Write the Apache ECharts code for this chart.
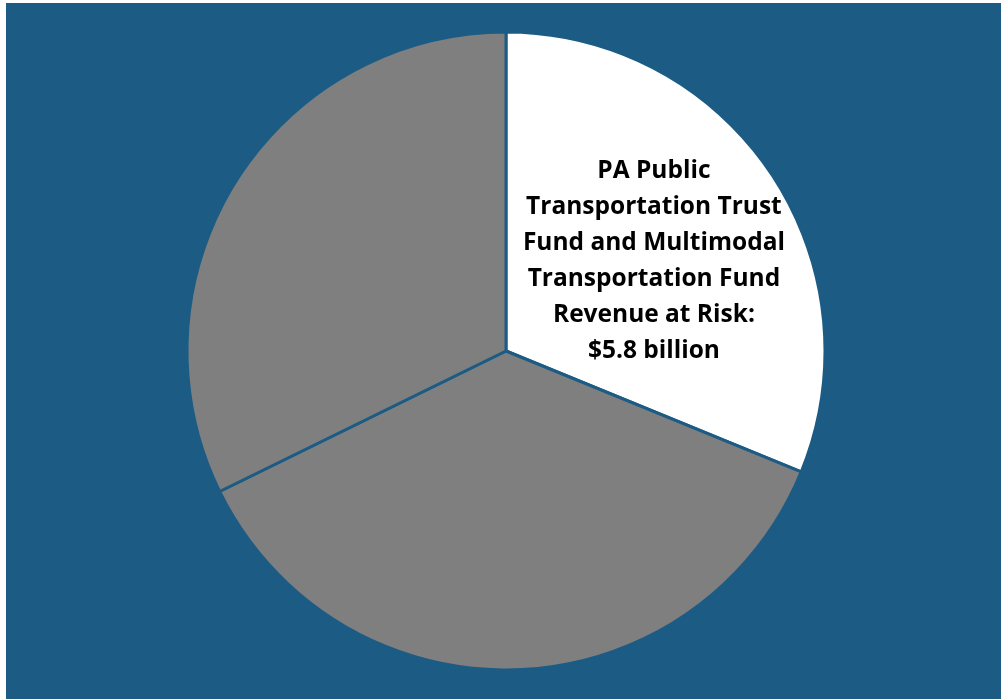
<!DOCTYPE html>
<html><head><meta charset="utf-8">
<script src="https://cdn.jsdelivr.net/npm/echarts@6/dist/echarts.min.js"></script>
<style>
html,body{margin:0;padding:0;background:#ffffff;width:1001px;height:699px;overflow:hidden;}
#c{position:absolute;left:6px;top:3px;width:995px;height:696px;}
</style></head>
<body><div id="c"></div>
<script>
const categories = ['PA Public Transportation Trust Fund and Multimodal Transportation Fund Revenue at Risk', 'Other 1', 'Other 2'];
const values = [5.8, 6.8, 6.0];
const labelText = ['PA Public', 'Transportation Trust', 'Fund and Multimodal', 'Transportation Fund', 'Revenue at Risk:', '$5.8 billion'];
const colors = ['#ffffff', '#7f7f7f', '#7f7f7f'];

const chart = echarts.init(document.getElementById('c'), null, {renderer: 'canvas'});
chart.setOption({
  backgroundColor: '#1c5c84',
  animation: false,
  series: [{
    type: 'pie',
    center: [500, 348],
    radius: [0, 319],
    startAngle: 90,
    clockwise: true,
    itemStyle: {borderColor: '#1c5c84', borderWidth: 3},
    labelLine: {show: false},
    labelLayout: function (p) { return p.dataIndex === 0 ? {dx: 13, dy: 1} : {}; },
    data: categories.map((c, i) => ({
      name: c,
      value: values[i],
      itemStyle: {color: colors[i]},
      label: i === 0 ? {
        show: true,
        position: 'inside',
        formatter: labelText.join('\n'),
        color: '#000000',
        fontFamily: 'Open Sans',
        fontWeight: 'bold',
        fontSize: 24.5,
        lineHeight: 36,
        align: 'center'
      } : {show: false}
    }))
  }]
});
</script></body></html>
